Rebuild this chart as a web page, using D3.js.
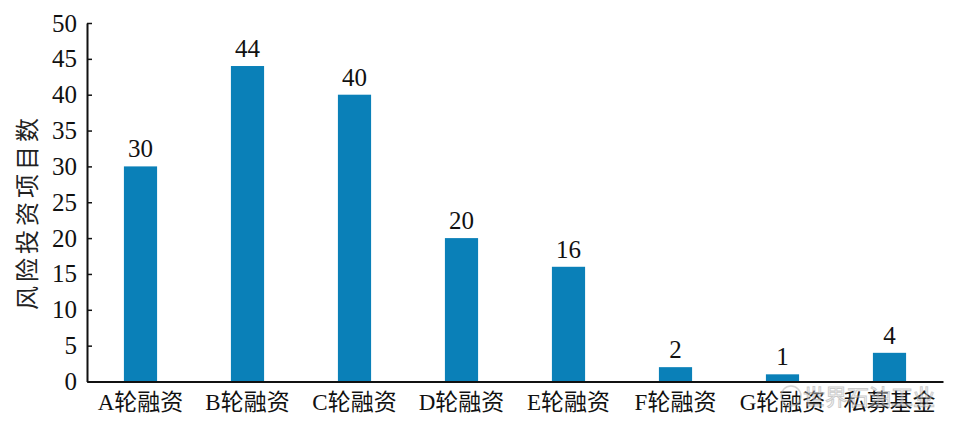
<!DOCTYPE html>
<html><head><meta charset="utf-8">
<script src="https://cdn.jsdelivr.net/npm/d3@7"></script>
<style>body{margin:0;background:#fff}</style>
</head><body>
<svg id="c" width="964" height="436"></svg>
<script>
const categories = ["A轮融资","B轮融资","C轮融资","D轮融资","E轮融资","F轮融资","G轮融资","私募基金"];
const values = [30,44,40,20,16,2,1,4];
const yTicks = [0,5,10,15,20,25,30,35,40,45,50];
const yTitle = "风险投资项目数";

const svg = d3.select("#c");
const fontFam = "'Liberation Serif','Times New Roman','Noto Sans CJK SC',serif";
const x = d3.scaleBand().domain(categories).range([87, 943]).paddingInner(0.69).paddingOuter(0.345);
const y = d3.scaleLinear().domain([0,50]).range([381.5, 23]);

svg.append("g").attr("transform","translate(87,0)")
  .call(d3.axisLeft(y).tickValues(yTicks).tickSize(-5).tickPadding(10).tickSizeOuter(0))
  .call(g=>{g.select(".domain").attr("stroke","#111").attr("stroke-width",2);
    g.selectAll(".tick line").attr("stroke","#111").attr("stroke-width",1.5);
    g.selectAll("text").attr("font-family",fontFam).attr("font-size",25).attr("fill","#111");});

svg.append("g").selectAll("rect").data(values).join("rect")
  .attr("x",(d,i)=>x(categories[i])).attr("width",x.bandwidth())
  .attr("y",d=>y(d)).attr("height",d=>y(0)-y(d)).attr("fill","#0a80b8");

svg.append("g").attr("transform",`translate(0,${y(0)})`)
  .call(d3.axisBottom(x).tickSize(0).tickPadding(11).tickSizeOuter(0))
  .call(g=>{g.select(".domain").attr("stroke","#111").attr("stroke-width",2);
    g.selectAll("text").attr("font-family",fontFam).attr("font-size",23).attr("fill","#111").attr("dy","0.75em");});

svg.append("g").selectAll("text").data(values).join("text")
  .attr("x",(d,i)=>x(categories[i])+x.bandwidth()/2).attr("y",d=>y(d)-9)
  .attr("text-anchor","middle").attr("font-family",fontFam).attr("font-size",25).attr("fill","#111")
  .text(d=>d);

svg.append("text").attr("transform","translate(36,212) rotate(-90)")
  .attr("text-anchor","middle").attr("font-family",fontFam).attr("font-size",24)
  .attr("letter-spacing",4).attr("fill","#222").text(yTitle);

// watermark
const wm = svg.append("g").attr("opacity",0.5);
wm.append("circle").attr("cx",791).attr("cy",396).attr("r",10).attr("fill","none").attr("stroke","#aaa").attr("stroke-width",1.5);
wm.append("text").attr("x",803).attr("y",405).attr("font-family","'Noto Sans CJK SC',sans-serif")
  .attr("font-size",22).attr("fill","#fff").attr("stroke","#999").attr("stroke-width",1).text("世界石油工业");
</script>
</body></html>
